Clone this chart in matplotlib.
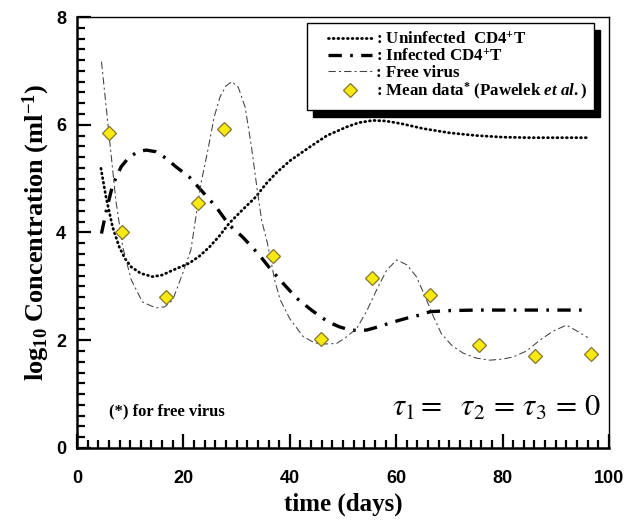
import numpy as np
import matplotlib.pyplot as plt
from matplotlib.patches import Rectangle
from matplotlib.ticker import MultipleLocator

# uninfected CD4+T cells (dotted)
x_uninf = [4.5, 5.45, 6.7, 7.95, 9.0, 10.2, 12.0, 14.2, 16.0, 18.0, 21.1, 23.0, 24.9,
           26.8, 28.6, 31.0, 33.6, 35.5, 37.4, 40.0, 43.8, 47.0, 50.7, 53.0, 55.6,
           58.0, 61.0, 65.0, 70.0, 75.0, 80.0, 85.0, 90.0, 96.0]
y_uninf = [5.19, 4.66, 4.10, 3.73, 3.52, 3.36, 3.24, 3.18, 3.21, 3.30, 3.43, 3.56, 3.73,
           3.94, 4.17, 4.41, 4.66, 4.90, 5.10, 5.33, 5.59, 5.80, 5.96, 6.04, 6.08,
           6.07, 6.02, 5.93, 5.85, 5.80, 5.77, 5.76, 5.76, 5.76]

# infected CD4+T cells (dash-dot)
x_inf = [4.6, 5.5, 6.7, 8.3, 9.8, 11.5, 13.0, 14.8, 16.7, 18.6, 21.1, 24.2, 26.1, 28.6,
         31.1, 34.3, 36.3, 38.8, 41.3, 44.2, 47.2, 49.3, 51.3, 53.0, 54.5, 57.0, 59.5,
         62.0, 64.5, 66.4, 70.0, 75.0, 80.0, 85.0, 90.0, 96.0]
y_inf = [3.98, 4.40, 4.88, 5.22, 5.40, 5.50, 5.53, 5.50, 5.38, 5.22, 5.03, 4.69, 4.48, 4.14,
         3.92, 3.58, 3.33, 3.05, 2.78, 2.55, 2.34, 2.25, 2.19, 2.18, 2.19, 2.26, 2.34,
         2.41, 2.47, 2.53, 2.55, 2.56, 2.56, 2.56, 2.56, 2.56]

# free virus (thin dashed)
x_vir = [4.6, 5.2, 6.0, 7.3, 8.6, 10.2, 12.3, 14.8, 16.5, 18.0, 19.9, 21.4, 23.3, 24.6,
         25.8, 26.9, 28.0, 29.1, 30.3, 31.6, 32.8, 33.8, 34.7, 35.8, 37.2, 38.2, 40.0,
         42.5, 44.7, 46.5, 48.8, 50.5, 52.6, 54.5, 56.3, 58.2, 60.1, 62.0, 63.8, 65.5,
         67.0, 68.5, 70.5, 72.6, 75.0, 77.6, 80.0, 82.0, 84.5, 87.0, 89.5, 92.0, 94.2, 96.0]
y_vir = [7.17, 6.60, 5.84, 4.60, 3.73, 3.12, 2.71, 2.60, 2.62, 2.75, 3.25, 3.67, 4.91, 5.53,
         6.15, 6.52, 6.72, 6.80, 6.70, 6.33, 5.59, 4.85, 4.23, 3.80, 3.10, 2.75, 2.40,
         2.07, 1.95, 1.93, 1.94, 2.05, 2.22, 2.55, 2.93, 3.30, 3.49, 3.40, 3.18, 2.80,
         2.44, 2.12, 1.90, 1.76, 1.67, 1.63, 1.65, 1.69, 1.80, 2.00, 2.17, 2.28, 2.16, 2.05]

# mean data (Pawelek et al.)
x_data = [6.0, 8.4, 16.7, 22.7, 27.7, 36.8, 45.9, 55.5, 66.4, 75.6, 86.1, 96.6]
y_data = [5.84, 4.01, 2.81, 4.54, 5.92, 3.56, 2.02, 3.15, 2.84, 1.91, 1.71, 1.74]

plt.rcParams['mathtext.fontset'] = 'custom'
plt.rcParams['mathtext.rm'] = 'Liberation Serif:bold'
plt.rcParams['mathtext.it'] = 'Liberation Serif:italic:bold'
plt.rcParams['mathtext.bf'] = 'Liberation Serif:bold'

fig = plt.figure(figsize=(6.28, 5.25), dpi=100)
ax = fig.add_axes([0.1226, 0.1467, 0.8471, 0.8209])

l1, = ax.plot(x_uninf, y_uninf, color='black', lw=2.0, linestyle=(0, (0.3, 1.4)),
              dash_capstyle='round', label=r': Uninfected  CD4$^{+}$T')
l2, = ax.plot(x_inf, y_inf, color='black', lw=2.4, linestyle=(0, (4, 2.5, 0.8, 2.5)),
              label=r': Infected CD4$^{+}$T')
l3, = ax.plot(x_vir, y_vir, color='#404040', lw=0.75, linestyle=(0, (7, 3, 2, 3)),
              label=': Free virus')
l4, = ax.plot(x_data, y_data, linestyle='none', marker='D', ms=6.8, mfc='#f8ea10',
              mec='#857530', mew=0.9, label=r': Mean data$^{*}$ (Pawelek $et\ al.$)',
              zorder=4)

ax.set_xlim(0, 100)
ax.set_ylim(0, 8)
ax.xaxis.set_major_locator(MultipleLocator(20))
ax.xaxis.set_minor_locator(MultipleLocator(2))
ax.yaxis.set_major_locator(MultipleLocator(2))
ax.yaxis.set_minor_locator(MultipleLocator(0.2))
ax.tick_params(which='both', direction='in', top=False, right=False, width=1.6)
ax.tick_params(which='major', length=10)
ax.tick_params(which='minor', length=5.5)
ax.tick_params(axis='x', which='major', pad=16)
ax.tick_params(axis='y', which='major', pad=8)
for lab in ax.get_xticklabels() + ax.get_yticklabels():
    lab.set_fontfamily('Liberation Sans')
    lab.set_fontweight('bold')
    lab.set_fontsize(13)
for s in ['left', 'bottom']:
    ax.spines[s].set_linewidth(1.8)
for s in ['top', 'right']:
    ax.spines[s].set_linewidth(1.0)

ax.set_xlabel('time (days)', family='Liberation Serif', weight='bold', fontsize=18, labelpad=4)
ax.set_ylabel(r'log$_{10}$ Concentration (ml$^{-1}$)', family='Liberation Serif',
              weight='bold', fontsize=19, labelpad=3)

ax.text(6.0, 0.67, '(*) for free virus', family='Liberation Serif', weight='bold',
        fontsize=12, va='center', ha='left')
ax.text(98.5, 0.6, r'$\tau_1 =\ \ \tau_2\, =\, \tau_3\, =\, 0$', math_fontfamily='stix',
        fontsize=22, ha='right', va='baseline')

# legend frame with solid black offset shadow
ax.add_patch(Rectangle((0.444, 0.769), 0.54, 0.202, transform=ax.transAxes,
                       facecolor='black', edgecolor='black', zorder=5, clip_on=False))
ax.add_patch(Rectangle((0.432, 0.784), 0.54, 0.202, transform=ax.transAxes,
                       facecolor='white', edgecolor='black', lw=1.0, zorder=6, clip_on=False))
leg = ax.legend(handles=[l1, l2, l3, l4], loc='upper left', bbox_to_anchor=(0.472, 0.966),
                frameon=False, borderpad=0, borderaxespad=0, handlelength=2.6,
                handletextpad=0.2, labelspacing=0.0, numpoints=1,
                prop={'family': 'Liberation Serif', 'weight': 'bold', 'size': 12.2})
leg.set_zorder(7)

fig.savefig('out.png', dpi=100, facecolor='white')
